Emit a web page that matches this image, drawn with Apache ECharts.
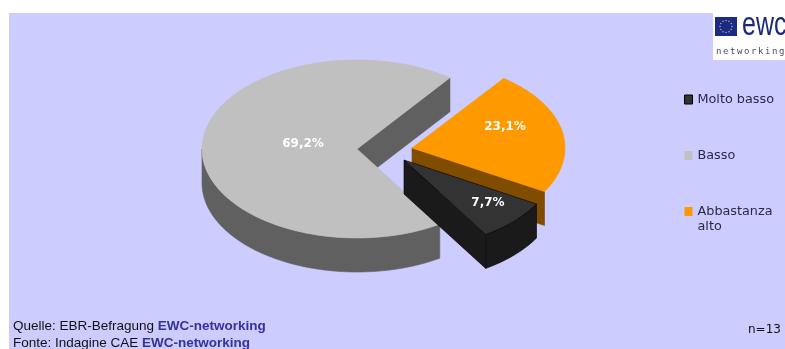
<!DOCTYPE html>
<html>
<head>
<meta charset="utf-8">
<style>html,body{margin:0;padding:0;background:#fff}#chart{width:785px;height:349px}</style>
<script src="https://cdn.jsdelivr.net/npm/echarts@6/dist/echarts.min.js"></script>
</head>
<body>
<div id="chart"></div>
<script>
// Survey answers, clockwise order around the pie
const categories = ['Molto basso', 'Basso', 'Abbastanza alto'];
const shares = [7.7, 69.2, 23.1];
const sampleSize = 'n=13';
const sourceLines = [['Quelle: EBR-Befragung ', 'EWC-networking'], ['Fonte: Indagine CAE ', 'EWC-networking']];

// Pie projection: flattened discs with a fixed extrusion
const DEPTH = 34, START_ANGLE = -30;
const radii = [[153, 88], [155, 89], [153, 87]];
const topColors = ['#333333', '#c0c0c0', '#ff9900'];
const sideColors = ['#1a1a1a', '#606060', '#804c00'];
const outlines = ['#000000', null, null];
const apexes = [[404, 160], [357, 149], [412, 148]];
const labelOffsets = [[84, 43], [-54, -5], [93, -21]];
const drawOrder = [1, 2, 0]; // back to front

const total = shares.reduce((a, b) => a + b, 0);
const startAngles = [];
shares.reduce((acc, v, i) => { startAngles[i] = acc; return acc - v / total * 360; }, START_ANGLE);

function rimPoint(idx, deg, drop) {
  const t = deg * Math.PI / 180;
  return [apexes[idx][0] + radii[idx][0] * Math.cos(t), apexes[idx][1] - radii[idx][1] * Math.sin(t) + (drop || 0)];
}
function arc(idx, from, to, drop) {
  const pts = [], n = Math.max(2, Math.ceil(Math.abs(from - to)));
  for (let k = 0; k <= n; k++) pts.push(rimPoint(idx, from + (to - from) * k / n, drop));
  return pts;
}
function poly(points, fill, stroke, width) {
  return { type: 'polygon', shape: { points },
    style: { fill, stroke: stroke || fill, lineWidth: width || 0.6, lineJoin: 'round' } };
}

const renderSlice = idx => (params, api) => {
  const value = api.value(0);
  const a0 = startAngles[idx], a1 = a0 - value / total * 360;
  const apex = apexes[idx], side = sideColors[idx], line = outlines[idx];
  const children = [];
  const below = [apex[0], apex[1] + DEPTH];

  // Radial face at the clockwise end of the slice
  children.push(poly([apex, rimPoint(idx, a1), rimPoint(idx, a1, DEPTH), below], side, line));

  // Outer wall, front half of the rim only
  const hi = Math.min(a0, 0), lo = Math.max(a1, -180);
  if (hi > lo) {
    children.push(poly(arc(idx, hi, lo, 0).concat(arc(idx, lo, hi, DEPTH)), side, line));
  }

  // Top surface
  children.push(poly([apex].concat(arc(idx, a0, a1, 0)), topColors[idx], line));

  // Value label
  children.push({ type: 'text', style: {
    x: apex[0] + labelOffsets[idx][0], y: apex[1] + labelOffsets[idx][1],
    text: value.toFixed(1).replace('.', ',') + '%', fill: '#ffffff',
    font: 'bold 12px "DejaVu Sans"', align: 'center', verticalAlign: 'middle' } });
  return { type: 'group', children };
};

// Builds the logo: flag, star ring and lettering
function logoElements() {
  const els = [
    { type: 'rect', shape: { x: 713, y: 13, width: 72, height: 47 }, style: { fill: '#ffffff' } },
    { type: 'rect', shape: { x: 715, y: 17, width: 22, height: 19 }, style: { fill: '#1c2a85' } }
  ];
  for (let i = 0; i < 12; i++) {
    const t = i * Math.PI / 6;
    els.push({ type: 'circle', shape: { cx: 726 + 6 * Math.cos(t), cy: 26.5 + 6 * Math.sin(t), r: 0.8 },
      style: { fill: '#a9a98a' } });
  }
  els.push({ type: 'text', x: 742, y: 42, scaleY: 1.3, style: { x: 0, y: 0, text: 'ewc', fill: '#1c2a75',
    font: '25px "Liberation Sans"', verticalAlign: 'bottom' } });
  'networking'.split('').forEach((ch, i) => {
    els.push({ type: 'text', style: { x: 716 + i * 7, y: 52, text: ch, fill: '#4a4a66',
      font: '9px "DejaVu Sans Mono"', verticalAlign: 'middle' } });
  });
  return els;
}

const footer = sourceLines.map((parts, i) => ({
  type: 'text',
  style: { x: 13, y: 326 + i * 17, text: '{a|' + parts[0] + '}{b|' + parts[1] + '}', verticalAlign: 'middle',
    rich: {
      a: { font: '13.5px "Liberation Sans"', fill: '#111111' },
      b: { font: 'bold 13.5px "Liberation Sans"', fill: '#333399' }
    } }
}));

const chart = echarts.init(document.getElementById('chart'), null, { renderer: 'canvas' });
chart.setOption({
  animation: false,
  backgroundColor: '#ffffff',
  graphic: [
    { type: 'rect', z: -1, shape: { x: 9, y: 13, width: 776, height: 336 }, style: { fill: '#ccccff' } },
    ...logoElements(),
    ...footer,
    { type: 'text', style: { x: 748, y: 330, text: sampleSize, fill: '#111111',
      font: '12px "DejaVu Sans"', verticalAlign: 'middle' } }
  ],
  legend: {
    orient: 'vertical', left: 684, top: 77, itemWidth: 8, itemHeight: 9, itemGap: 11, padding: 0,
    data: categories.map((name, i) => ({ name, icon: 'rect',
      itemStyle: { color: topColors[i], borderColor: outlines[i] || topColors[i], borderWidth: outlines[i] ? 1 : 0 } })),
    // A blank line above keeps each swatch beside the first line of its label
    formatter: name => '\n' + name.replace(' alto', '\nalto') + (name.endsWith('alto') ? '' : '\n '),
    textStyle: { color: '#2a2a48', fontFamily: 'DejaVu Sans', fontSize: 12.8, lineHeight: 15 },
    selectedMode: false
  },
  series: drawOrder.map(idx => ({
    type: 'custom', name: categories[idx], coordinateSystem: 'none', silent: true,
    itemStyle: { color: topColors[idx] }, data: [[shares[idx]]], renderItem: renderSlice(idx)
  }))
});
</script>
</body>
</html>
